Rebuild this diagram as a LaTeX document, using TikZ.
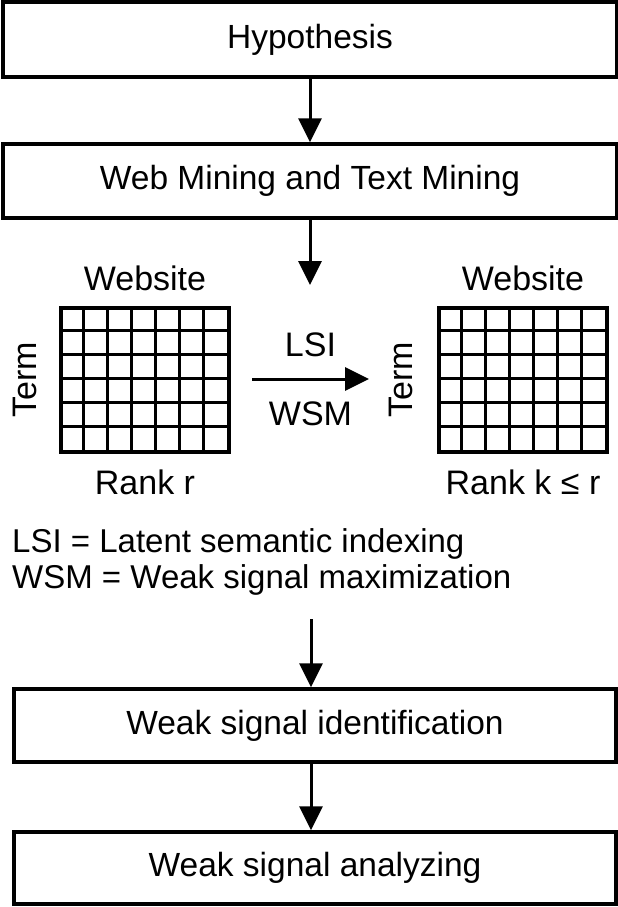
\documentclass[tikz,border=0pt]{standalone}
\usepackage{fontspec}
\setmainfont{Liberation Sans}
\usetikzlibrary{arrows.meta,positioning}
\tikzset{stage/.style={draw, line width=3.5pt, minimum height=74pt,
      inner sep=0pt, font=\fontsize{33.5}{40}\selectfont},
    lbl/.style={inner sep=0pt, font=\fontsize{34}{40}\selectfont},
    legendtext/.style={inner sep=0pt, font=\fontsize{33}{40}\selectfont},
    flow/.style={line width=3pt, -{Triangle[width=23pt,length=24pt]}},
    matrixbox/.style={draw, line width=3.2pt, minimum width=168pt,
      minimum height=144pt, inner sep=0pt},
    gridline/.style={line width=3pt},
    }
\begin{document}
\begin{tikzpicture}[x=1pt,y=-1pt]
	\useasboundingbox (0,0) rectangle (618,907);
	\node[stage, minimum width=614pt, minimum height=75pt] (hyp) at (310,39.5) {Hypothesis};
	\node[stage, minimum width=614pt] (web) at (310,181) {Web Mining and Text Mining};
	\coordinate (webend) at (310,285);
	\draw[flow] (hyp) -- (web);
	\draw[flow] (web) -- (webend);
	% term x website matrices
	\node[matrixbox] (matL) at (145,380) {};
	\node[matrixbox] (matR) at (523,380) {};
	\foreach \m in {matL,matR}{
		\foreach \c in {1,...,6}
			\draw[gridline] ([xshift=\c*24pt]\m.north west) -- ([xshift=\c*24pt]\m.south west);
		\foreach \r in {1,...,5}
			\draw[gridline] ([yshift=-\r*24pt]\m.north west) -- ([yshift=-\r*24pt]\m.north east);
	}
	\node[lbl, above=15pt of matL] (siteL) {Website};
	\node[lbl, above=15pt of matR] (siteR) {Website};
	\node[lbl, below=16pt of matL] (rankL) {Rank r};
	\node[lbl, below=16pt of matR] (rankR) {Rank k ≤ r};
	\node[lbl, rotate=90, anchor=south] (termL) at ([xshift=-22pt]matL.west) {Term};
	\node[lbl, rotate=90, anchor=south] (termR) at ([xshift=-24pt]matR.west) {Term};
	\coordinate (lsiA) at (252,379);
	\coordinate (lsiB) at (369,379);
	\draw[flow] (lsiA) -- node[lbl, above=21pt] (lsi) {LSI}
		node[lbl, below=21pt] (wsm) {WSM} (lsiB);
	% legend
	\node[legendtext, anchor=base west] (legLSI) at (12,552) {LSI = Latent semantic indexing};
	\node[legendtext, anchor=base west] (legWSM) at (12,588) {WSM = Weak signal maximization};
	\coordinate (sigstart) at (311,619);
	\node[stage, minimum width=602pt, minimum height=73pt] (ident) at (315,725.5) {Weak signal identification};
	\node[stage, minimum width=602pt, minimum height=72pt] (anal) at (315,868) {Weak signal analyzing};
	\draw[flow] (sigstart) -- (sigstart |- ident.north);
	\draw[flow] (ident.south -| sigstart) -- (anal.north -| sigstart);
\end{tikzpicture}
\end{document}
